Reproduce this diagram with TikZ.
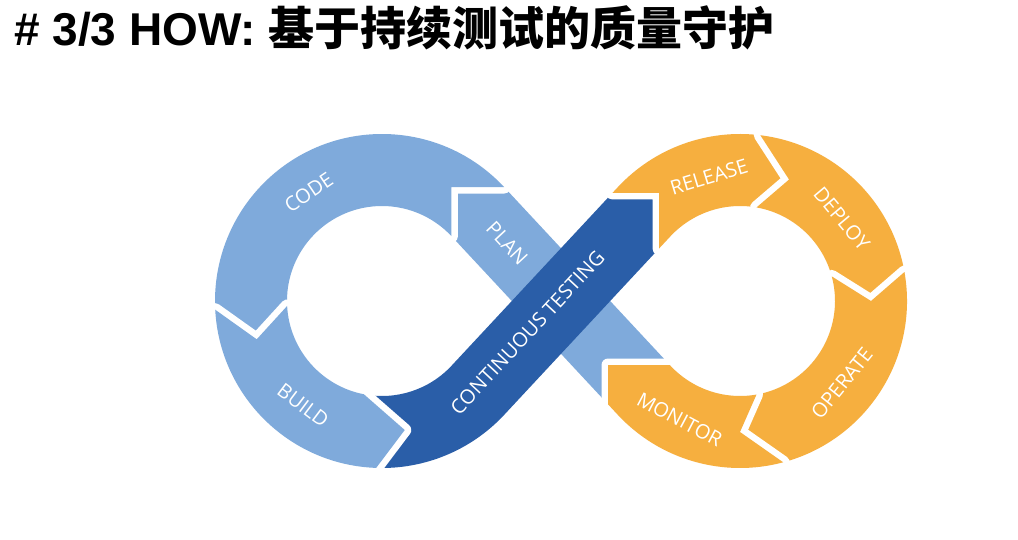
\documentclass[tikz,border=0pt]{standalone}
\usepackage{fontspec}
\usepackage{tikz}
\usetikzlibrary{calc}
\newfontfamily\ttlfont{Liberation Sans}
\newfontfamily\cjkfont{Noto Sans CJK SC}
\newfontfamily\lblfont{Open Sans}
\definecolor{devlight}{HTML}{7FAADB}
\definecolor{devdark}{HTML}{2A5EA8}
\definecolor{devorange}{HTML}{F6AF3F}

\begin{document}
\begin{tikzpicture}[x=1pt, y=1pt,
  seg/.style={preaction={draw=white, line width=13pt, line join=round}},
  lbl/.style={font=\lblfont\fontsize{20}{20}\selectfont, text=white, inner sep=0pt}]
  \useasboundingbox (0,0) rectangle (1018,539);
  \node[anchor=base west, inner sep=0pt] (title) at (14,493)
    {\ttlfont\bfseries\fontsize{46}{46}\selectfont\# 3/3 HOW: {\cjkfont\bfseries 基于持续测试的质量守护}};

  \coordinate (L) at (382,238);
  \coordinate (R) at (740,238);
  \coordinate (c1) at (451.48,351.89);
  \coordinate (a4) at (612.38,346);
  \coordinate (c4) at (659,346);
  \coordinate (b4) at (659,290.42);
  \coordinate (a8) at (608,134.71);
  \coordinate (c8) at (608,174);
  \coordinate (b8) at (669.78,174);

  \fill[devlight] (a8) -- ($(L)+(43:95)$) -- (c1) -- ($(L)+(43:167)$) -- (b8) -- (c8) -- cycle;
  \fill[devdark] ($(L)+(268:167)$) arc[start angle=268, end angle=317, radius=167] -- (b4) -- (c4) -- (a4)
    -- ($(L)+(317:95)$) arc[start angle=317, end angle=259, radius=95] -- ($(L)+(280:131)$) -- cycle;

  \fill[seg, devlight] ($(L)+(43:167)$) arc[start angle=43, end angle=183, radius=167] -- ($(L)+(197:131)$)
    -- ($(L)+(183:95)$) arc[start angle=183, end angle=43, radius=95] -- (c1) -- cycle;
  \fill[seg, devlight] ($(L)+(183:167)$) arc[start angle=183, end angle=268, radius=167] -- ($(L)+(280:131)$)
    -- ($(L)+(259:95)$) arc[start angle=259, end angle=183, radius=95] -- ($(L)+(197:131)$) -- cycle;

  \fill[seg, devorange] (a4) -- ($(R)+(137:167)$) arc[start angle=137, end angle=83, radius=167] -- ($(R)+(68:131)$)
    -- ($(R)+(80:95)$) arc[start angle=80, end angle=137, radius=95] -- (b4) -- (c4) -- cycle;
  \fill[seg, devorange] ($(R)+(83:167)$) arc[start angle=83, end angle=10, radius=167] -- ($(R)+(0:131)$)
    -- ($(R)+(15:95)$) arc[start angle=15, end angle=80, radius=95] -- ($(R)+(68:131)$) -- cycle;
  \fill[seg, devorange] ($(R)+(10:167)$) arc[start angle=10, end angle=-75, radius=167] -- ($(R)+(270:131)$)
    -- ($(R)+(280:95)$) arc[start angle=-80, end angle=15, radius=95] -- ($(R)+(0:131)$) -- cycle;
  \fill[seg, devorange] (a8) -- (c8) -- (b8) -- ($(R)+(223:95)$) arc[start angle=223, end angle=280, radius=95]
    -- ($(R)+(270:131)$) -- ($(R)+(285:167)$) arc[start angle=285, end angle=223, radius=167] -- cycle;

  \node[lbl, rotate=34] (code) at ($(L)+(124:131)$) {CODE};
  \node[lbl, rotate=-37] (build) at ($(L)+(233:131)$) {BUILD};
  \node[lbl, rotate=17] (release) at ($(R)+(104:128)$) {RELEASE};
  \node[lbl, rotate=-50] (deploy) at ($(R)+(39:131)$) {DEPLOY};
  \node[lbl, rotate=51] (operate) at ($(R)+(321:131)$) {OPERATE};
  \node[lbl, rotate=-28] (monitor) at ($(R)+(243:133)$) {MONITOR};
  \node[lbl, rotate=47] (ctlbl) at ($(L)+(317:131)+(47:76)+(137:3)$) {CONTINUOUS TESTING};
  \node[lbl, rotate=-47] (planlbl) at ($(L)+(43:131)+(-47:43)$) {PLAN};
\end{tikzpicture}
\end{document}
